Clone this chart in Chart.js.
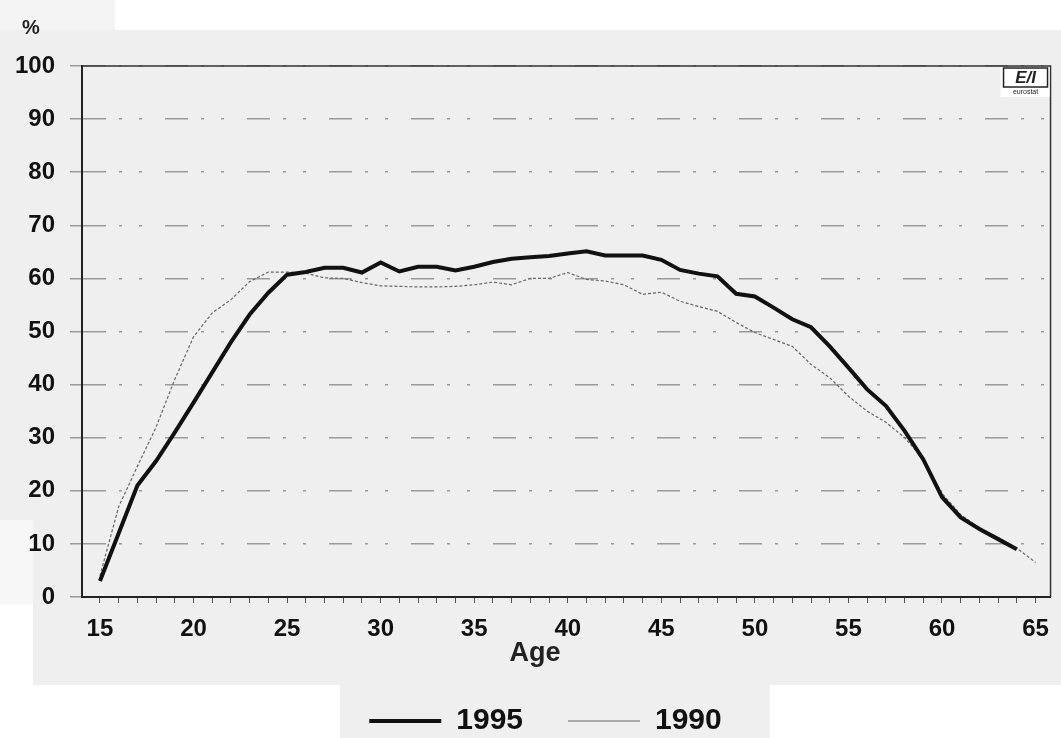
<!DOCTYPE html>
<html>
<head>
<meta charset="utf-8">
<script src="https://cdn.jsdelivr.net/npm/chart.js@4.4.1/dist/chart.umd.min.js"></script>
<style>
  html, body { margin: 0; padding: 0; background: #ffffff; }
  #wrap { width: 1061px; height: 738px; position: relative; }
</style>
</head>
<body>
<div id="wrap"><canvas id="chart"></canvas></div>
<script>
const ages = [15,16,17,18,19,20,21,22,23,24,25,26,27,28,29,30,31,32,33,34,35,36,37,38,39,40,
  41,42,43,44,45,46,47,48,49,50,51,52,53,54,55,56,57,58,59,60,61,62,63,64,65];
const rate1995 = [3,12,21,25.6,31,36.6,42.3,48,53.2,57.3,60.7,61.2,62,62,61.1,63,61.3,62.2,62.2,61.5,
  62.2,63.1,63.7,64,64.2,64.7,65.1,64.3,64.3,64.3,63.5,61.6,60.9,60.4,57.1,56.6,54.5,52.3,50.8,47.2,
  43.2,39.1,36,31.3,25.9,18.8,15,12.8,10.9,9];
const rate1990 = [4,17,24.6,32,41,49,53.5,56,59.4,61.2,61.2,61,60.1,60,59.2,58.6,58.5,58.4,58.4,58.5,
  58.8,59.3,58.8,60,60,61.1,59.8,59.5,58.8,57,57.4,55.7,54.7,53.8,51.7,49.8,48.5,47.2,43.8,41.3,
  37.8,35,32.9,30,26,19.5,15.5,13,11.2,9.2,6.5];
const seriesNames = ['1995', '1990'];
const yTicks = [0,10,20,30,40,50,60,70,80,90,100];

const gridDash = [23, 13, 3, 17, 3, 23];
const tickFont = { family: "'Liberation Sans', Arial, sans-serif", size: 24, weight: 'bold' };

const decor = {
  id: 'decor',
  beforeDraw(chart) {
    const ctx = chart.ctx;
    ctx.save();
    ctx.fillStyle = '#ffffff';
    ctx.fillRect(0, 0, chart.width, chart.height);
    ctx.fillStyle = '#efefef';
    ctx.fillRect(0, 30, 1061, 490);
    ctx.fillRect(33, 30, 1028, 655);
    ctx.fillRect(340, 685, 430, 53);
    ctx.fillStyle = '#f4f4f4';
    ctx.fillRect(0, 0, 115, 30);
    ctx.fillStyle = '#f7f7f7';
    ctx.fillRect(0, 520, 33, 85);
    ctx.restore();
  },
  afterDatasetsDraw(chart) {
    const ctx = chart.ctx;
    const a = chart.chartArea;
    ctx.save();
    // frame
    ctx.strokeStyle = '#333';
    ctx.lineWidth = 1.5;
    ctx.beginPath();
    ctx.moveTo(a.left, a.top);
    ctx.lineTo(a.right, a.top);
    ctx.lineTo(a.right, a.bottom);
    ctx.stroke();
    // logo
    ctx.fillStyle = '#ffffff';
    ctx.fillRect(a.right - 50, a.top + 1, 49, 30);
    ctx.strokeStyle = '#222';
    ctx.lineWidth = 1.5;
    ctx.strokeRect(a.right - 47, a.top + 2, 44, 19);
    ctx.fillStyle = '#222';
    ctx.font = "bold italic 17px 'Liberation Sans', Arial, sans-serif";
    ctx.textAlign = 'center';
    ctx.textBaseline = 'middle';
    ctx.fillText('E/I', a.right - 25, a.top + 12);
    ctx.font = "7px 'Liberation Sans', Arial, sans-serif";
    ctx.fillText('eurostat', a.right - 25, a.top + 26);
    // texts
    ctx.font = "bold 20px 'Liberation Sans', Arial, sans-serif";
    ctx.textAlign = 'left';
    ctx.fillText('%', 22, 28);
    ctx.font = "bold 27px 'Liberation Sans', Arial, sans-serif";
    ctx.textAlign = 'center';
    ctx.fillText('Age', 535, 654);
    ctx.restore();
  }
};

new Chart(document.getElementById('chart'), {
  type: 'line',
  data: {
    labels: ages,
    datasets: [
      {
        label: seriesNames[0],
        data: rate1995,
        borderColor: '#111',
        backgroundColor: '#111',
        borderWidth: 4,
        pointRadius: 0,
        pointStyle: 'line',
        tension: 0
      },
      {
        label: seriesNames[1],
        data: rate1990,
        borderColor: '#666',
        backgroundColor: '#666',
        borderWidth: 1.2,
        borderDash: [3, 2],
        pointRadius: 0,
        pointStyle: 'line',
        tension: 0
      }
    ]
  },
  options: {
    responsive: true,
    maintainAspectRatio: false,
    animation: false,
    // the right padding is negative and an empty right axis takes the room back,
    // so the legend centre sits a little right of the canvas centre like the original
    layout: { padding: { top: 66, right: -30, left: 0, bottom: -8 } },
    plugins: {
      tooltip: { enabled: false },
      legend: {
        position: 'bottom',
        labels: {
          usePointStyle: true,
          pointStyleWidth: 72,
          boxHeight: 20,
          padding: 45,
          color: '#111',
          font: { family: "'Liberation Sans', Arial, sans-serif", size: 30, weight: 'bold' }
        }
      }
    },
    scales: {
      x: {
        type: 'linear',
        min: 14.04,
        max: 65.8,
        afterBuildTicks: (scale) => { scale.ticks = ages.map(v => ({ value: v })); },
        afterFit: (scale) => { scale.height = 64; },
        ticks: {
          autoSkip: false,
          maxRotation: 0,
          padding: 12,
          color: '#111',
          font: tickFont,
          callback: (v) => (v % 5 === 0 ? String(v) : '')
        },
        grid: { drawOnChartArea: false, tickLength: 6, tickColor: '#555', tickWidth: 1 },
        border: { color: '#222', width: 2 }
      },
      y: {
        min: 0,
        max: 100,
        afterBuildTicks: (scale) => { scale.ticks = yTicks.map(v => ({ value: v })); },
        afterFit: (scale) => { scale.width = 82; },
        ticks: { padding: 15, color: '#111', font: tickFont },
        grid: {
          color: '#9a9a9a',
          lineWidth: 1.5,
          tickLength: 12,
          tickColor: '#9a9a9a',
          tickBorderDash: gridDash
        },
        border: { color: '#222', width: 2, dash: gridDash }
      },
      yRight: {
        position: 'right',
        min: 0,
        max: 100,
        afterFit: (scale) => { scale.width = 36; },
        ticks: { display: false },
        grid: { display: false },
        border: { display: false }
      }
    }
  },
  plugins: [decor]
});
</script>
</body>
</html>
